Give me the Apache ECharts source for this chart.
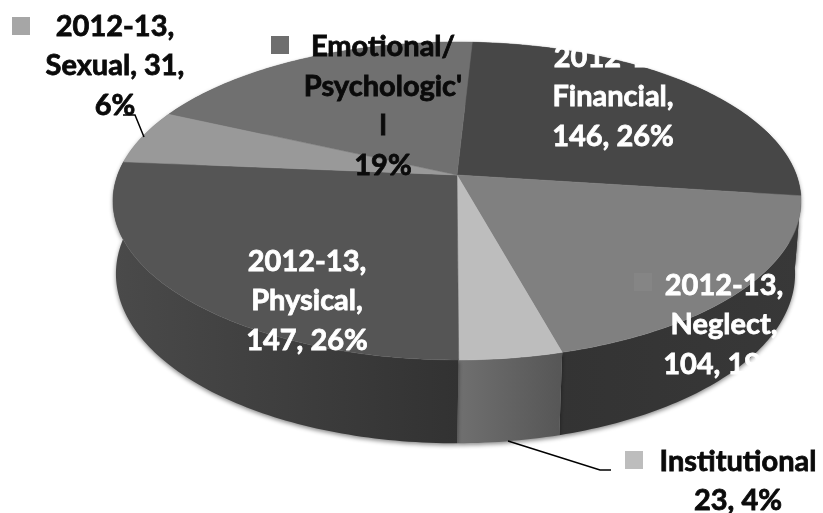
<!DOCTYPE html>
<html>
<head>
<meta charset="utf-8">
<style>html,body{margin:0;padding:0;background:#fff}#c{width:823px;height:513px}</style>
<script src="https://cdn.jsdelivr.net/npm/echarts@6/dist/echarts.min.js"></script>
</head>
<body>
<div id="c"></div>
<script>
const categories = ['Financial','Neglect','Institutional','Physical','Sexual','Emotional/Psychological'];
const values = [146,104,23,147,31,105];
const labelTexts = [
  '2012-13,\nFinancial,\n146, 26%',
  '2012-13,\nNeglect,\n104, 19%',
  'Institutional\n23, 4%',
  '2012-13,\nPhysical,\n147, 26%',
  '2012-13,\nSexual, 31,\n6%',
  "Emotional/\nPsychologic'\nl\n19%"
];
const topColors = ['#474747','#808080','#bdbdbd','#555555','#999999','#707070'];
const wallColors = [['#3a3a3a','#333333'],['#333333','#383838'],['#707070','#565656'],['#4a4a4a','#323232'],['#808080','#808080'],['#505050','#505050']];
const labelColors = ['#fff','#fff','#0a0a0a','#fff','#0a0a0a','#0a0a0a'];
const labelPos = [[613,97],[724,325],[738,481],[307,301],[115,66],[383,106]];
const keyPos = [[625,451,'#bdbdbd'],[12,17,'#a6a6a6'],[271,36,'#6e6e6e'],[634,273,'#858585']];

const START_DEG = 3, CX = 457;
const TOP = {cy:175, A:339.4, B:154.7, k:0.1635};
const BOT = {cy:246, A:335, B:165, k:0.1635};
const total = values.reduce((a,b)=>a+b,0);
function pt(deg, ring, r){
  r = r===undefined?1:r;
  const t = deg*Math.PI/180, X = r*Math.sin(t), Y = r*Math.cos(t), w = 1+ring.k*Y;
  return [CX + ring.A*X/w - (ring===BOT?1.5:0), ring.cy - ring.B*Y/w];
}
function range(i){
  let s = START_DEG;
  for(let j=0;j<i;j++) s += values[j]/total*360;
  return [s, s+values[i]/total*360];
}
function arc(a,b,ring){
  const out=[]; const n=Math.max(2,Math.ceil(Math.abs(b-a)));
  for(let j=0;j<=n;j++) out.push(pt(a+(b-a)*j/n,ring));
  return out;
}
function renderTop(p,api){
  const i=p.dataIndex, [a,b]=range(i);
  return {type:'polygon',shape:{points:[pt(0,TOP,0)].concat(arc(a,b,TOP))},style:{fill:topColors[i],stroke:topColors[i],lineWidth:0.5}};
}
function renderWall(p,api){
  const i=p.dataIndex, [a,b]=range(i);
  const pts=arc(a,b,TOP).concat(arc(b,a,BOT));
  return {type:'polygon',shape:{points:pts},style:{
    fill:new echarts.graphic.LinearGradient(0,0,1,0,[{offset:0,color:wallColors[i][0]},{offset:1,color:wallColors[i][1]}]),
    shadowBlur:4,shadowColor:'rgba(0,0,0,0.45)',shadowOffsetY:2}};
}
const graphics=[];
keyPos.forEach(k=>graphics.push({type:'rect',z:20,shape:{x:k[0],y:k[1],width:18,height:18},style:{fill:k[2]}}));
labelTexts.forEach((t,i)=>graphics.push({type:'text',z:30,x:labelPos[i][0],y:labelPos[i][1],style:{
  text:t,fill:labelColors[i],stroke:labelColors[i],lineWidth:0.8,font:'700 29px Lato, "Open Sans", sans-serif',lineHeight:39.5,align:'center',verticalAlign:'middle'}}));
graphics.push({type:'polyline',z:25,shape:{points:[[123,115],[135,115],[144,137]]},style:{stroke:'#000',lineWidth:1.5,fill:null}});
graphics.push({type:'polyline',z:25,shape:{points:[[508,441],[600,470],[611,470]]},style:{stroke:'#000',lineWidth:1.5,fill:null}});

const chart=echarts.init(document.getElementById('c'));
chart.setOption({
  animation:false,
  backgroundColor:'#fff',
  series:[
    {type:'custom',coordinateSystem:'none',z:2,renderItem:renderWall,data:values},
    {type:'custom',coordinateSystem:'none',z:3,renderItem:renderTop,data:values}
  ],
  graphic:graphics
});
</script>
</body>
</html>
